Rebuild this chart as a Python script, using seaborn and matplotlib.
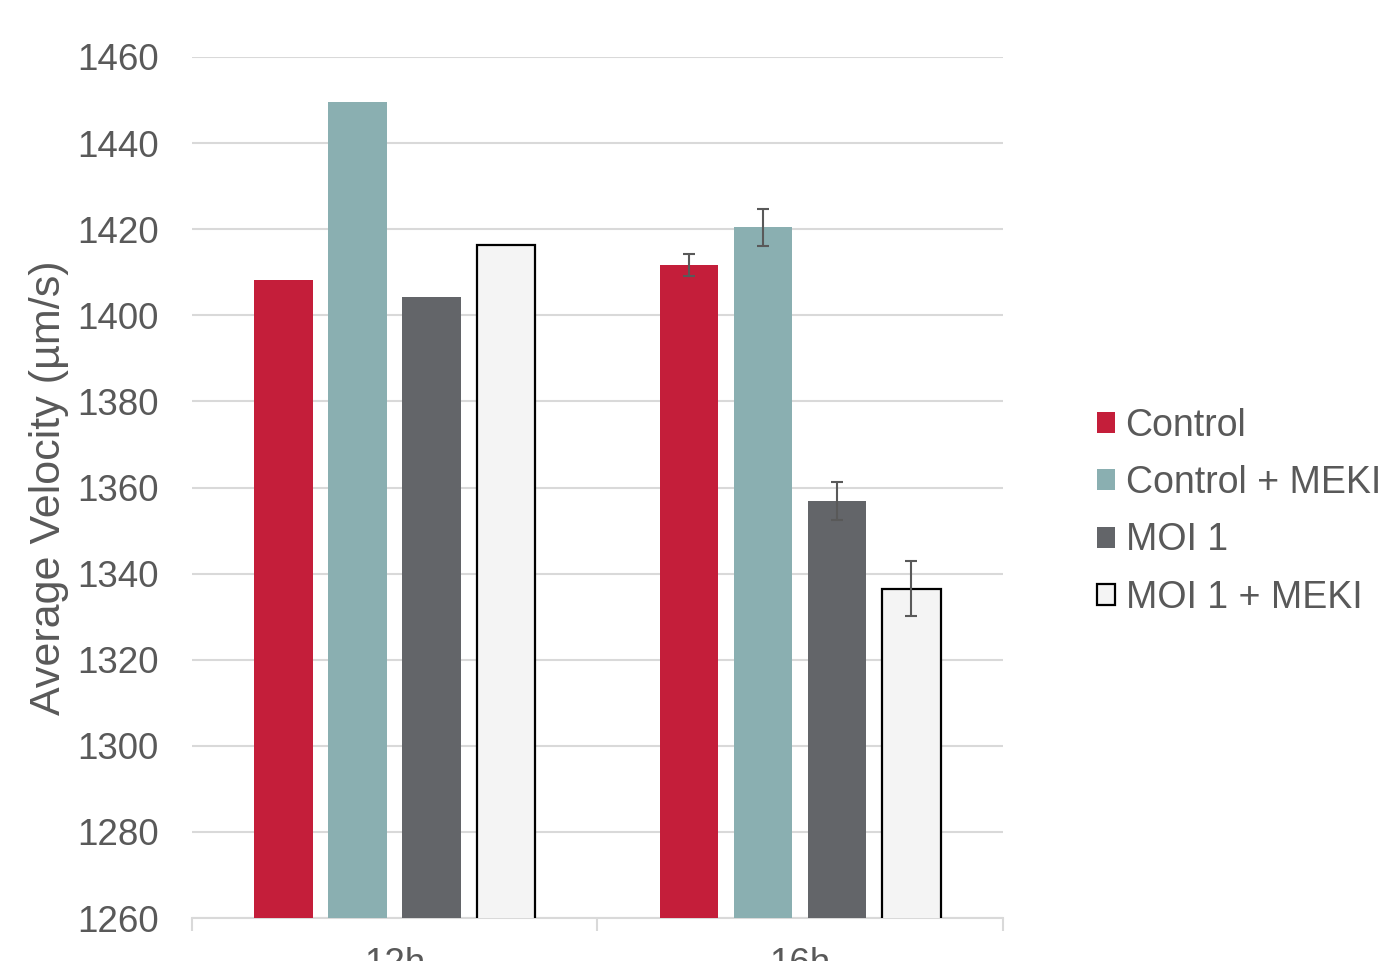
import numpy as np
import pandas as pd
import matplotlib
matplotlib.use("Agg")
import matplotlib.pyplot as plt
import seaborn as sns
from matplotlib.patches import Patch

# Mean velocities per time point and treatment
timepoints = ["12h", "16h"]
treatments = ["Control", "Control + MEKI", "MOI 1", "MOI 1 + MEKI"]
velocity_12h = [1408.2, 1449.5, 1404.3, 1416.3]
velocity_16h = [1411.7, 1420.4, 1356.9, 1336.5]
error_12h = [0.0, 0.0, 0.0, 0.0]
error_16h = [2.5, 4.3, 4.4, 6.4]
y_ticks = [1260, 1280, 1300, 1320, 1340, 1360, 1380, 1400, 1420, 1440, 1460]

palette = ["#C41E3A", "#8AAFB1", "#636569", "#F4F4F4"]
edge_colors = ["none", "none", "none", "black"]
text_color = "#595959"

df = pd.DataFrame({
    "time": np.repeat(timepoints, len(treatments)),
    "treatment": treatments * len(timepoints),
    "velocity": velocity_12h + velocity_16h,
    "err": error_12h + error_16h,
})

sns.set_theme(style="white")
plt.rcParams["font.family"] = ["Liberation Sans", "DejaVu Sans"]

fig = plt.figure(figsize=(13.81, 9.61), dpi=100)
ax = fig.add_axes([0.139, 0.0447, 0.5873, 0.896])

sns.barplot(data=df, x="time", y="velocity", hue="treatment",
            hue_order=treatments, order=timepoints, palette=palette,
            width=0.73, gap=0.21, errorbar=None, legend=False, ax=ax,
            saturation=1)

# Per-bar edges, then error bars at the bar centres
for container, ec in zip(ax.containers, edge_colors):
    for bar in container:
        if ec == "none":
            bar.set_edgecolor("none")
            bar.set_linewidth(0)
        else:
            bar.set_edgecolor(ec)
            bar.set_linewidth(1.6)
        bar.set_zorder(3)

for container, tr in zip(ax.containers, treatments):
    for bar, t in zip(container, timepoints):
        row = df[(df["time"] == t) & (df["treatment"] == tr)].iloc[0]
        if row["err"] > 0:
            cx = bar.get_x() + bar.get_width() / 2
            ax.errorbar(cx, row["velocity"], yerr=row["err"], fmt="none",
                        ecolor=text_color, elinewidth=1.5, capsize=4.3,
                        capthick=1.5, zorder=4)

ax.set_ylim(1260, 1460)
ax.set_yticks(y_ticks)
ax.set_xlim(-0.5, 1.5)
ax.grid(axis="y", color="#D9D9D9", linewidth=1.5, zorder=0)
ax.set_axisbelow(True)

for side in ["top", "right", "left"]:
    ax.spines[side].set_visible(False)
ax.spines["bottom"].set_color("#D9D9D9")
ax.spines["bottom"].set_linewidth(1.5)

# Category separators on the x axis
ax.set_xticks([-0.5, 0.5, 1.5], minor=True)
ax.tick_params(axis="x", which="minor", length=9, width=1.5, color="#D9D9D9",
               bottom=True)
ax.tick_params(axis="x", which="major", length=0, pad=21,
               labelsize=26.5, labelcolor=text_color)
ax.tick_params(axis="y", length=0, pad=24, labelsize=26.5,
               labelcolor=text_color)

ax.set_xlabel("")
ax.set_ylabel("Average Velocity (µm/s)", fontsize=31, color=text_color,
              labelpad=6)

handles = [Patch(facecolor=c, edgecolor=("black" if e != "none" else c),
                 linewidth=(1.6 if e != "none" else 0))
           for c, e in zip(palette, edge_colors)]
leg = fig.legend(handles, treatments, loc="center left",
                 bbox_to_anchor=(0.770, 0.4675), frameon=False,
                 fontsize=27, labelcolor=text_color, handlelength=0.49,
                 handleheight=0.49, handletextpad=0.27, labelspacing=0.57)

fig.savefig("out.png", dpi=100)
